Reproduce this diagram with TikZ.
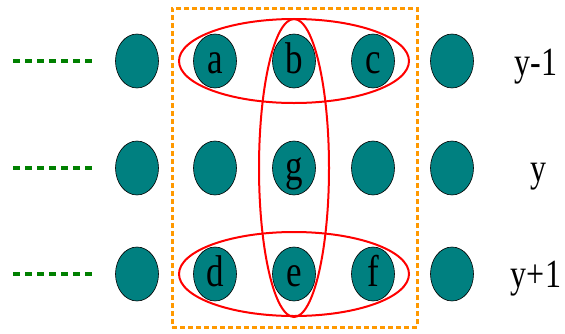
\documentclass[tikz,border=0pt]{standalone}
\usepackage{fontspec}
\setmainfont{Liberation Serif}
\usepackage{graphicx}
\usetikzlibrary{shapes.geometric, positioning}
\definecolor{dotteal}{RGB}{0,128,128}
\definecolor{trailgreen}{RGB}{0,128,0}
\definecolor{winorange}{RGB}{255,153,0}
\definecolor{grpred}{RGB}{255,0,0}
\newcommand{\vstr}[1]{\scalebox{1}[1.27]{#1}}
\tikzstyle{pixel} = [ellipse, draw=black, line width=0.6pt, fill=dotteal, minimum width=43pt, minimum height=54pt, inner sep=0pt, text height=24pt, text depth=0pt]
\tikzstyle{group} = [ellipse, draw=grpred, line width=2pt, inner sep=0pt]
\tikzstyle{window} = [rectangle, draw=winorange, line width=3pt, dash pattern=on 5pt off 3pt, inner sep=0pt]
\tikzstyle{trail} = [draw=trailgreen, line width=3.5pt, dash pattern=on 7pt off 5pt]
\tikzstyle{rowlbl} = [anchor=base, inner sep=0pt]

\begin{document}
\begin{tikzpicture}[x=1pt, y=1pt]
  \useasboundingbox (0,0) rectangle (565,-333);

  % scan window
  \node[window, minimum width=245pt, minimum height=319pt] (win) at (294.5,-167.5) {};

  % pixels, row by row
  \foreach \nm/\x/\y/\t in {l1/137/61/, a/215/61/a, b/294/61/b, c/373/61/c, r1/452/61/,
                            l2/137/168/, m1/215/168/, g/294/168/g, m3/373/168/, r2/452/168/,
                            l3/137/274/, d/215/274/d, e/294/274/e, f/373/274/f, r3/452/274/}
    \node[pixel, font=\rmfamily\fontsize{35}{35}\selectfont] (\nm) at (\x,-\y) {\vstr{\t}};

  % neighbour groups
  \node[group, minimum width=230pt, minimum height=84pt] (top) at (b) {};
  \node[group, minimum width=70pt, minimum height=298pt] (col) at (g) {};
  \node[group, minimum width=230pt, minimum height=84pt] (bot) at (e) {};

  % earlier pixels of each row
  \coordinate (s1) at (13,-61);  \coordinate (t1) at (95,-61);
  \coordinate (s2) at (13,-168); \coordinate (t2) at (95,-168);
  \coordinate (s3) at (13,-274); \coordinate (t3) at (95,-274);
  \draw[trail] (s1) -- (t1);
  \draw[trail] (s2) -- (t2);
  \draw[trail] (s3) -- (t3);

  % row labels
  \node[rowlbl, font=\rmfamily\fontsize{32}{32}\selectfont] (ya) at (536,-75) {\scalebox{1}[1.25]{y-1}};
  \node[rowlbl, font=\rmfamily\fontsize{32}{32}\selectfont] (yb) at (538,-181) {\scalebox{1}[1.25]{y}};
  \node[rowlbl, font=\rmfamily\fontsize{32}{32}\selectfont] (yc) at (536,-287) {\scalebox{1}[1.25]{y+1}};
\end{tikzpicture}
\end{document}
